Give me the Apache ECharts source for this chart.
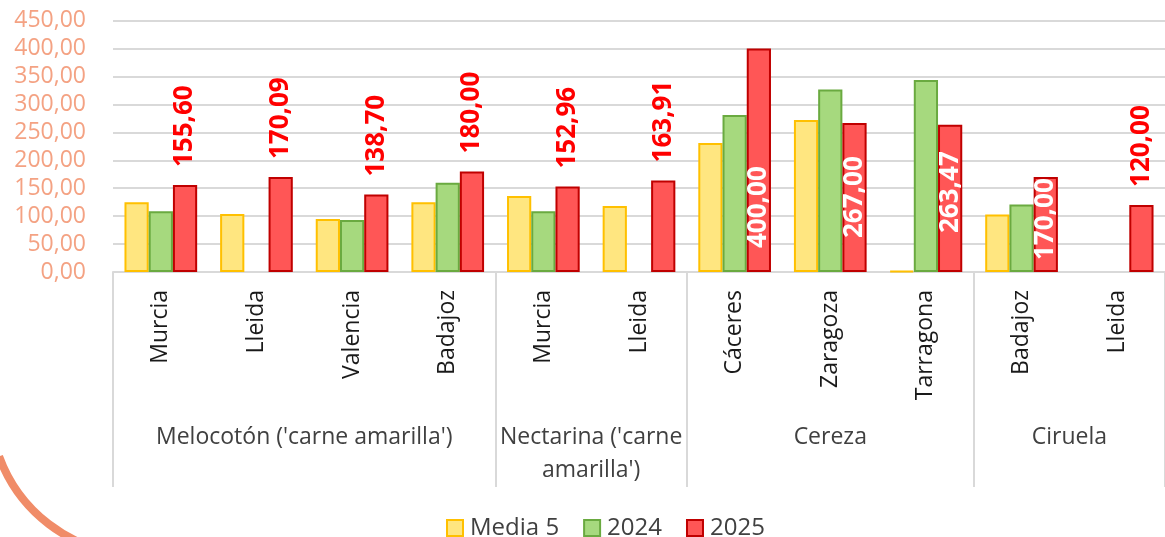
<!DOCTYPE html>
<html><head><meta charset="utf-8">
<script src="https://cdn.jsdelivr.net/npm/echarts@6/dist/echarts.min.js"></script>
<style>html,body{margin:0;padding:0;background:#fff;overflow:hidden}#c{width:1165px;height:537px}</style>
</head><body><div id="c"></div>
<script>
// ---- data ----
const categories = ['Murcia','Lleida','Valencia','Badajoz','Murcia','Lleida','Cáceres','Zaragoza','Tarragona','Badajoz','Lleida'];
const groups = ["Melocotón ('carne amarilla')", "Nectarina ('carne\namarilla')", 'Cereza', 'Ciruela'];
const groupSizes = [4, 2, 3, 2];
const seriesNames = ['Media 5', '2024', '2025'];
const media5 = [125, 104, 95, 125, 136, 118, 231, 272, 2, 103, null];
const y2024 = [109, null, 93, 160, 109, null, 281, 327, 344, 121, null];
const y2025 = [155.60, 170.09, 138.70, 180.00, 152.96, 163.91, 400.00, 267.00, 263.47, 170.00, 120.00];
const yMax = 450, yStep = 50;

// ---- styling helpers ----
const FONT = '"Open Sans", "Noto Sans", sans-serif';
const fmt = v => v.toFixed(2).replace('.', ',');
const insideLift = {6: 24, 7: 34, 8: 39, 9: 12}; // label placement for labels drawn inside bars

// group boundaries and centres on a continuous index scale
const bounds = [-0.5], centres = [];
let acc = 0;
groupSizes.forEach(n => { centres.push(acc + (n - 1) / 2); acc += n; bounds.push(acc - 0.5); });

const data2025 = y2025.map((v, i) => {
  if (insideLift[i] !== undefined) {
    return { value: v, label: { position: 'insideBottom', distance: insideLift[i], color: '#ffffff' } };
  }
  return { value: v };
});

const chart = echarts.init(document.getElementById('c'));
chart.setOption({
  animation: false,
  backgroundColor: '#ffffff',
  grid: { left: 113, right: -4, top: 20.7, bottom: 265, containLabel: false },
  legend: {
    data: seriesNames,
    left: 441, top: 511,
    itemWidth: 16, itemHeight: 16, itemGap: 24,
    icon: 'rect',
    textStyle: { fontFamily: FONT, fontSize: 24, color: '#404040', padding: [0, 0, 0, 2] }
  },
  xAxis: [{
    type: 'category',
    data: categories,
    axisLine: { show: true, lineStyle: { color: '#D9D9D9', width: 2 } },
    axisTick: { show: false },
    axisLabel: { rotate: 90, margin: 18, fontFamily: FONT, fontSize: 23, color: '#1a1a1a', interval: 0 },
    splitLine: { show: false }
  }, {
    type: 'value',
    position: 'bottom',
    min: -0.5, max: categories.length - 0.5,
    axisLine: { show: false },
    splitLine: { show: false },
    axisTick: { show: true, customValues: bounds, length: 215, inside: false, lineStyle: { color: '#D9D9D9', width: 2 } },
    axisLabel: {
      show: true, customValues: centres, margin: 149,
      fontFamily: FONT, fontSize: 23, color: '#404040', lineHeight: 33,
      formatter: v => { const k = centres.findIndex(c => Math.abs(c - v) < 1e-6); return k >= 0 ? groups[k] : ''; }
    }
  }],
  yAxis: {
    type: 'value', min: 0, max: yMax, interval: yStep,
    axisLine: { show: false }, axisTick: { show: false },
    splitLine: { lineStyle: { color: '#D9D9D9', width: 2 } },
    axisLabel: { margin: 27, fontFamily: FONT, fontSize: 23, color: '#F4A283', formatter: v => fmt(v) }
  },
  series: [{
    name: seriesNames[0], type: 'bar', data: media5,
    barGap: '0%', barCategoryGap: '24%',
    itemStyle: { color: '#FFE680', borderColor: '#FFC000', borderWidth: 2 }
  }, {
    name: seriesNames[1], type: 'bar', data: y2024,
    barGap: '0%', barCategoryGap: '24%',
    itemStyle: { color: '#A6D97E', borderColor: '#6AAA40', borderWidth: 2 }
  }, {
    name: seriesNames[2], type: 'bar', data: data2025,
    barGap: '0%', barCategoryGap: '24%',
    itemStyle: { color: '#FF5656', borderColor: '#C00000', borderWidth: 2 },
    label: {
      show: true, position: 'top', distance: 18, rotate: 90,
      align: 'left', verticalAlign: 'middle',
      fontFamily: FONT, fontWeight: 'bold', fontSize: 26, color: '#FF0000',
      formatter: p => fmt(p.value)
    }
  }],
  graphic: [{
    type: 'arc', silent: true,
    shape: { cx: 140, cy: 405, r: 150, startAngle: Math.PI * 95 / 180, endAngle: Math.PI * 160 / 180 },
    style: { stroke: '#F08C68', lineWidth: 8, fill: null }
  }, {
    type: 'arc', silent: true,
    shape: { cx: 1330, cy: 420, r: 200, startAngle: Math.PI * 120 / 180, endAngle: Math.PI * 144 / 180 },
    style: { stroke: '#F08C68', lineWidth: 8, fill: null }
  }]
});
</script></body></html>
